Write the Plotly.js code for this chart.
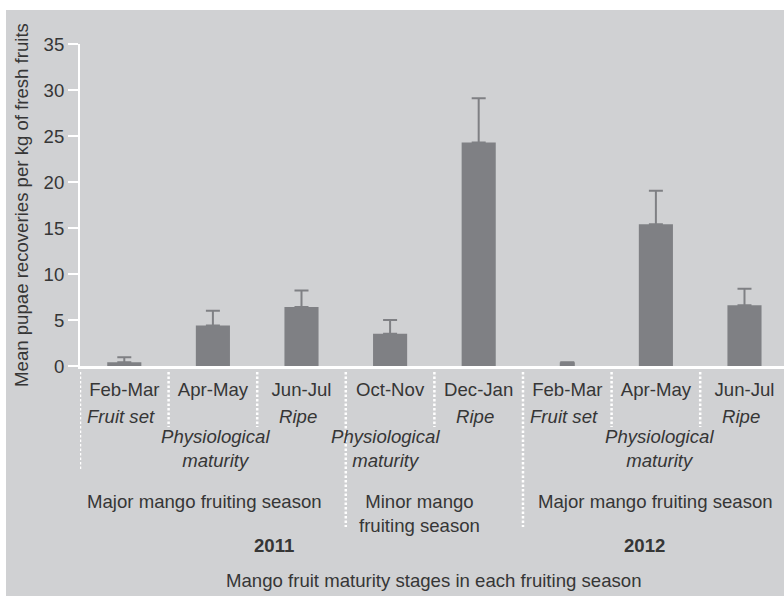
<!DOCTYPE html>
<html>
<head>
<meta charset="utf-8">
<script src="https://cdn.plot.ly/plotly-3.0.1.min.js"></script>
<style>html,body{margin:0;padding:0;background:#fff;}#chart{width:784px;height:596px;}</style>
</head>
<body>
<div id="chart"></div>
<script>
// ---- data ----
var periods = ["Feb-Mar", "Apr-May", "Jun-Jul", "Oct-Nov", "Dec-Jan", "Feb-Mar", "Apr-May", "Jun-Jul"];
var stages = ["Fruit set", "Physiological<br>maturity", "Ripe", "Physiological<br>maturity", "Ripe", "Fruit set", "Physiological<br>maturity", "Ripe"];
var meanPupae = [0.4, 4.4, 6.4, 3.5, 24.3, 0.4, 15.4, 6.6];
var stdErr = [0.55, 1.6, 1.8, 1.5, 4.8, null, 3.65, 1.8];
var seasons = ["Major mango fruiting season", "Minor mango<br>fruiting season", "Major mango fruiting season"];
var years = ["2011", "2012"];
var yTitle = "Mean pupae recoveries per kg of fresh fruits";
var xTitle = "Mango fruit maturity stages in each fruiting season";

// ---- style ----
var BG = "#d0d1d3", BAR = "#7f8084", TXT = "#363636";
var FONT = "Liberation Sans, Arial, Helvetica, sans-serif";
var FS = 18.6;
var H = 596, T = 44, B = 230, plotH = H - T - B;
function py(p) { return (H - B - p) / plotH; } // pixel y -> paper y

var idx = periods.map(function (_, i) { return i; });
var barWidths = idx.map(function (i) { return meanPupae[i] < 1 && stdErr[i] === null ? 0.17 : 0.385; });

var trace = {
  type: "bar",
  x: idx,
  y: meanPupae,
  width: barWidths,
  marker: { color: BAR, line: { width: 0 } },
  error_y: {
    type: "data", symmetric: false, array: stdErr,
    arrayminus: idx.map(function () { return 0; }),
    color: BAR, thickness: 2, width: 7
  },
  hoverinfo: "skip"
};

var shapes = [
  // grey panel (white strip top/left as in the figure)
  { type: "rect", xref: "paper", yref: "paper", x0: (6 - 80) / 704, x1: 1.01, y0: py(600), y1: py(10),
    fillcolor: BG, line: { width: 0 }, layer: "below" }
];
// dotted separators at category boundaries
var sepEnd = { "-0.5": 470, "2.5": 527, "4.5": 527 };
for (var b = -0.5; b < 7; b += 1) {
  var end = sepEnd[String(b)] || 427;
  shapes.push({ type: "line", xref: "x", yref: "paper", x0: b, x1: b, y0: py(372), y1: py(end),
    line: { color: "#ffffff", width: 2.5, dash: "2.5px,2px" } });
}

var annotations = [];
function ann(text, x, ypix, opts) {
  var a = { text: text, xref: "x", yref: "paper", x: x, y: py(ypix), showarrow: false,
    xanchor: "center", yanchor: "middle", font: { family: FONT, size: FS, color: TXT } };
  if (opts) for (var k in opts) a[k] = opts[k];
  annotations.push(a);
}
// stage labels
var stageX = [0, 1.03, 2, 2.95, 4, 5, 6.04, 7];
stages.forEach(function (s, i) {
  var two = s.indexOf("<br>") >= 0;
  ann("<i>" + s + "</i>", stageX[i] - (two ? 0 : 0.04), two ? 448 : 417);
});
// seasons
ann(seasons[0], 0.91, 502);
ann(seasons[1], 3.33, 513.5);
ann(seasons[2], 6.0, 502);
// years
ann("<b>" + years[0] + "</b>", 1.69, 545);
ann("<b>" + years[1] + "</b>", 5.87, 545);
// x axis title
ann(xTitle, 3.49, 580);

var layout = {
  width: 784, height: 596,
  margin: { l: 80, r: 0, t: T, b: B, pad: 0 },
  paper_bgcolor: "#ffffff",
  plot_bgcolor: BG,
  showlegend: false,
  font: { family: FONT, size: FS, color: TXT },
  xaxis: {
    range: [-0.5, 7.446],
    tickmode: "array", tickvals: idx, ticktext: periods,
    ticks: "", showgrid: false, zeroline: false,
    showline: true, linecolor: "#ffffff", linewidth: 3,
    tickfont: { family: FONT, size: FS, color: TXT },
    ticklabelstandoff: 5,
    fixedrange: true
  },
  yaxis: {
    range: [0, 35], dtick: 5, tick0: 0,
    ticks: "outside", ticklen: 10, tickwidth: 2, tickcolor: "#ffffff",
    showline: true, linecolor: "#ffffff", linewidth: 2,
    showgrid: false, zeroline: false,
    tickfont: { family: FONT, size: FS, color: TXT },
    title: { text: yTitle, font: { family: FONT, size: FS, color: TXT }, standoff: 10 },
    automargin: false,
    fixedrange: true
  },
  shapes: shapes,
  annotations: annotations
};

Plotly.newPlot("chart", [trace], layout, { displayModeBar: false, staticPlot: true });
</script>
</body>
</html>
